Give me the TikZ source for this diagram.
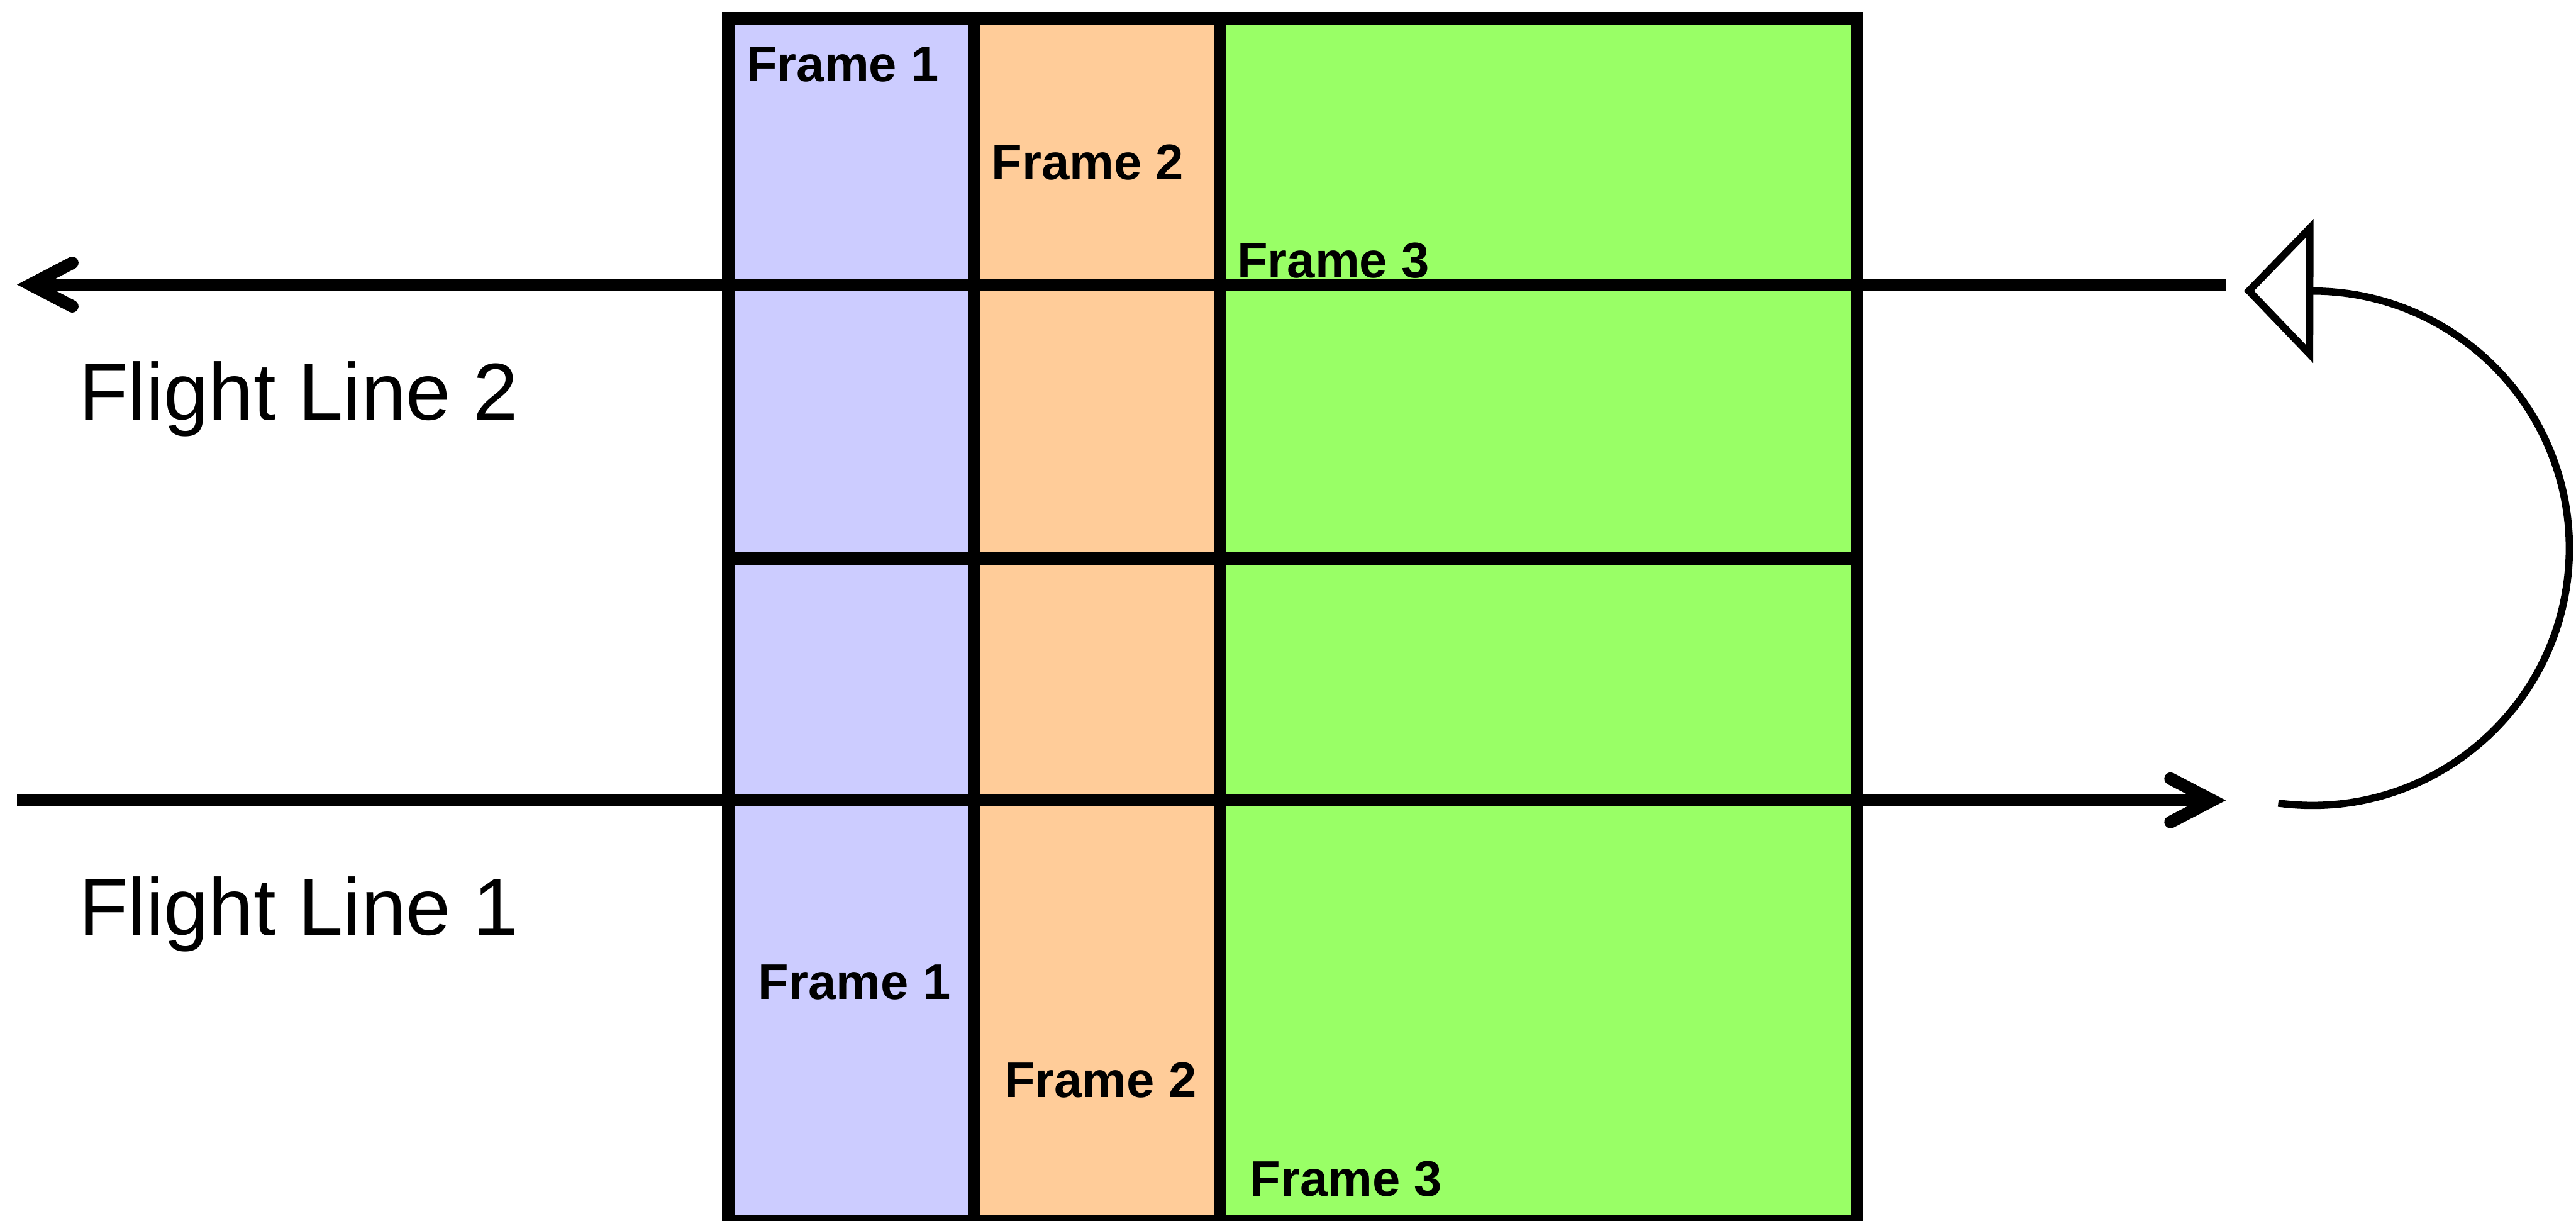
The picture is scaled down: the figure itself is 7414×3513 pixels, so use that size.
\documentclass[tikz,border=0pt]{standalone}
\usepackage{fontspec}
\setmainfont{Liberation Sans}
\usepackage{xcolor}
\definecolor{frameblue}{HTML}{CCCCFF}
\definecolor{frameorange}{HTML}{FFCC99}
\definecolor{framegreen}{HTML}{99FF66}
\usetikzlibrary{arrows.meta}

\begin{document}
\begin{tikzpicture}[
  x=0.01cm, y=-0.01cm,
  grid/.style ={line width=0.36cm},
  flight/.style={line width=0.36cm,
                 -{Straight Barb[length=1.2cm,width=1.25cm,line join=miter,line cap=round]}},
  turn/.style ={line width=0.21cm,-{Triangle[open,length=2.0cm,width=4.1cm]}},
  framelbl/.style={anchor=base west,inner sep=0pt,font=\fontsize{41}{45}\selectfont\bfseries},
  linelbl/.style ={anchor=base west,inner sep=0pt,font=\fontsize{66}{70}\selectfont}
]
\useasboundingbox (0,0) rectangle (7414,3513);

% frame footprints
\fill[frameblue]   (2096,52) rectangle (2803,3513);
\fill[frameorange] (2803,52) rectangle (3511,3513);
\fill[framegreen]  (3511,52) rectangle (5345,3513);
\draw[grid] (2096,52) rectangle (5345,3513);
\draw[grid] (2803,52) -- (2803,3513);
\draw[grid] (3511,52) -- (3511,3513);
\draw[grid] (2096,1608) -- (5345,1608);

% flight lines
\coordinate (fl2start) at (6407,819);
\coordinate (fl2end)   at (49,819);
\coordinate (fl1start) at (48,2303);
\coordinate (fl1end)   at (6406,2303);
\draw[flight] (fl2start) -- (fl2end);
\draw[flight] (fl1start) -- (fl1end);

% turn between the lines
\coordinate (turnstart) at (6557,2311);
\coordinate (turnend)   at (6458,837);
\draw[turn] (turnstart) arc[start angle=97.6,end angle=-90,radius=740] -- (turnend);

\node[framelbl] (f1top) at (2148,235)  {Frame 1};
\node[framelbl] (f2top) at (2853,517)  {Frame 2};
\node[framelbl] (f3top) at (3560,800)  {Frame 3};
\node[framelbl] (f1bot) at (2182,2876) {Frame 1};
\node[framelbl] (f2bot) at (2890,3158) {Frame 2};
\node[framelbl] (f3bot) at (3597,3441) {Frame 3};

\node[linelbl] (fl2lbl) at (226,1209) {Flight Line 2};
\node[linelbl] (fl1lbl) at (226,2690) {Flight Line 1};
\end{tikzpicture}
\end{document}
